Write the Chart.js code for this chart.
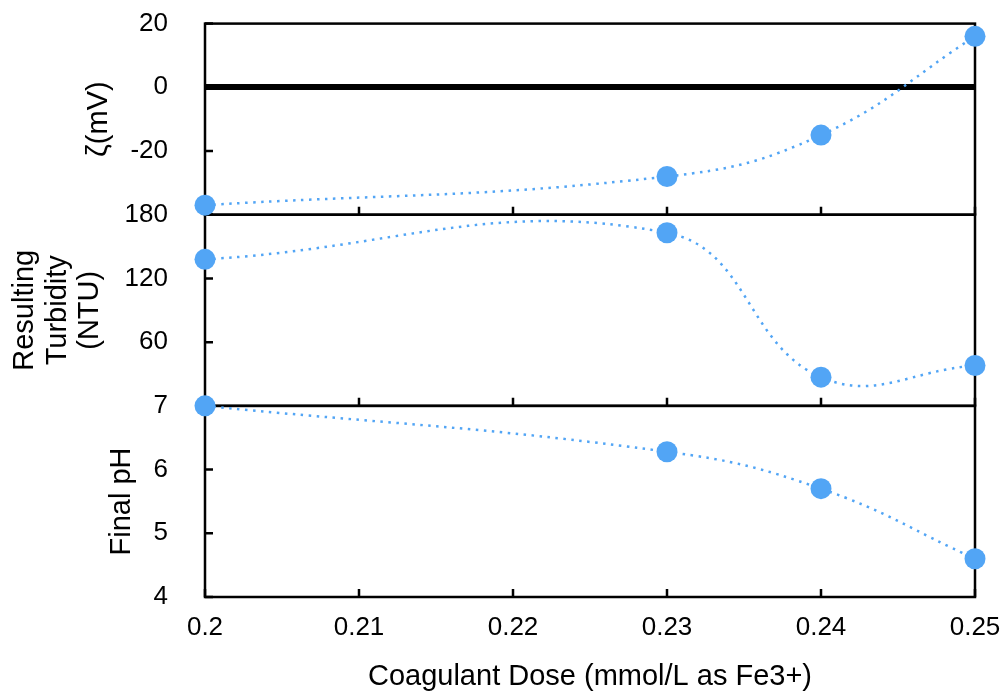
<!DOCTYPE html>
<html>
<head>
<meta charset="utf-8">
<script src="https://cdn.jsdelivr.net/npm/chart.js@4/dist/chart.umd.min.js"></script>
<style>
  html, body { margin: 0; padding: 0; background: #fff; }
  canvas { display: block; }
</style>
</head>
<body>
<canvas id="chart" width="1006" height="694"></canvas>
<script>
// coagulant dose (mmol/L as Fe3+)
const dose = [0.2, 0.23, 0.24, 0.25]
const zeta = [-37, -28, -15, 16]
const turbidity = [138, 163, 27, 38]
const finalPh = [7.0, 6.28, 5.7, 4.6]

const xTickLabels = ['0.2', '0.21', '0.22', '0.23', '0.24', '0.25']
const zetaTicks = ['-40', '-20', '0', '20']
const turbidityTicks = ['0', '60', '120', '180']
const phTicks = ['4', '5', '6', '7']

const blue = '#52a5f5'
const fontFamily = '"Liberation Sans", Arial, Helvetica, sans-serif'
const panelIds = ['yZeta', 'yTurb', 'yPh']
const clear = 'rgba(0,0,0,0)'

const toPoints = (ys) => dose.map((x, i) => ({ x, y: ys[i] }))

const series = (ys, axis) => ({
  data: toPoints(ys),
  yAxisID: axis,
  borderColor: blue,
  backgroundColor: blue,
  borderWidth: 2.5,
  borderDash: [2.5, 5.5],
  tension: 0.42,
  pointRadius: 10.5,
  pointHoverRadius: 10.5,
  pointBorderWidth: 0,
  clip: false
})

// frame of each panel plus the short inward tick marks
const panelFrame = {
  id: 'panelFrame',
  beforeDatasetsDraw (chart) {
    const { ctx, chartArea } = chart
    const xs = chart.scales.x
    ctx.save()
    ctx.strokeStyle = '#000'
    ctx.lineWidth = 2.5
    panelIds.forEach((id) => {
      const s = chart.scales[id]
      ctx.strokeRect(chartArea.left, s.top, chartArea.right - chartArea.left, s.bottom - s.top)
      ctx.beginPath()
      s.ticks.forEach((t) => {
        const py = s.getPixelForValue(t.value)
        ctx.moveTo(chartArea.left, py)
        ctx.lineTo(chartArea.left + 8, py)
      })
      xs.ticks.forEach((t) => {
        const px = xs.getPixelForValue(t.value)
        ctx.moveTo(px, s.bottom)
        ctx.lineTo(px, s.bottom - 8)
      })
      ctx.stroke()
    })
    ctx.restore()
  }
}

// tick padding also pads the layout, so the label gap comes from an invisible tick
const yScale = (min, max, step, labels, hide, title, titlePad, weight) => ({
  type: 'linear',
  position: 'left',
  stack: 'panels',
  stackWeight: 1,
  weight: weight,
  min: min,
  max: max,
  border: { display: false },
  grid: { display: true, drawOnChartArea: false, drawTicks: true, tickLength: 29, tickColor: clear },
  afterFit: (scale) => { scale.width = 205 },
  ticks: {
    stepSize: step,
    padding: 8,
    color: '#000',
    font: { family: fontFamily, size: 26 },
    callback: (v, i) => (v === hide ? '' : labels[i])
  },
  title: {
    display: true,
    text: title,
    color: '#000',
    font: { family: fontFamily, size: 29, lineHeight: 1.12 },
    padding: { top: titlePad, bottom: 0 }
  }
})

const zetaAxis = yScale(-40, 20, 20, zetaTicks, -40, 'ζ(mV)', 83, 3)
zetaAxis.grid = {
  display: true,
  drawTicks: true,
  tickLength: 29,
  tickColor: clear,
  color: (c) => (c.tick && c.tick.value === 0 ? '#000' : clear),
  lineWidth: (c) => (c.tick && c.tick.value === 0 ? 6 : 0)
}

new Chart(document.getElementById('chart'), {
  type: 'line',
  data: {
    datasets: [
      series(zeta, 'yZeta'),
      series(turbidity, 'yTurb'),
      series(finalPh, 'yPh')
    ]
  },
  options: {
    responsive: false,
    animation: false,
    events: [],
    layout: { padding: { top: 22, right: 31, bottom: 0, left: 0 } },
    plugins: {
      legend: { display: false },
      tooltip: { enabled: false }
    },
    scales: {
      x: {
        type: 'linear',
        min: 0.2,
        max: 0.25,
        border: { display: false },
        grid: { display: true, drawOnChartArea: false, drawTicks: true, tickLength: 11, tickColor: clear },
        afterFit: (scale) => { scale.height = 97 },
        ticks: {
          stepSize: 0.01,
          padding: 4,
          color: '#000',
          maxRotation: 0,
          font: { family: fontFamily, size: 26 },
          callback: (v, i) => xTickLabels[i]
        },
        title: {
          display: true,
          text: 'Coagulant Dose (mmol/L as Fe3+)',
          color: '#000',
          font: { family: fontFamily, size: 29 },
          padding: { top: 0, bottom: 0 }
        }
      },
      yZeta: zetaAxis,
      yTurb: yScale(0, 180, 60, turbidityTicks, 0, ['Resulting', 'Turbidity', '(NTU)'], 9, 2),
      yPh: yScale(4, 7, 1, phTicks, null, 'Final pH', 106, 1)
    }
  },
  plugins: [panelFrame]
})
</script>
</body>
</html>
